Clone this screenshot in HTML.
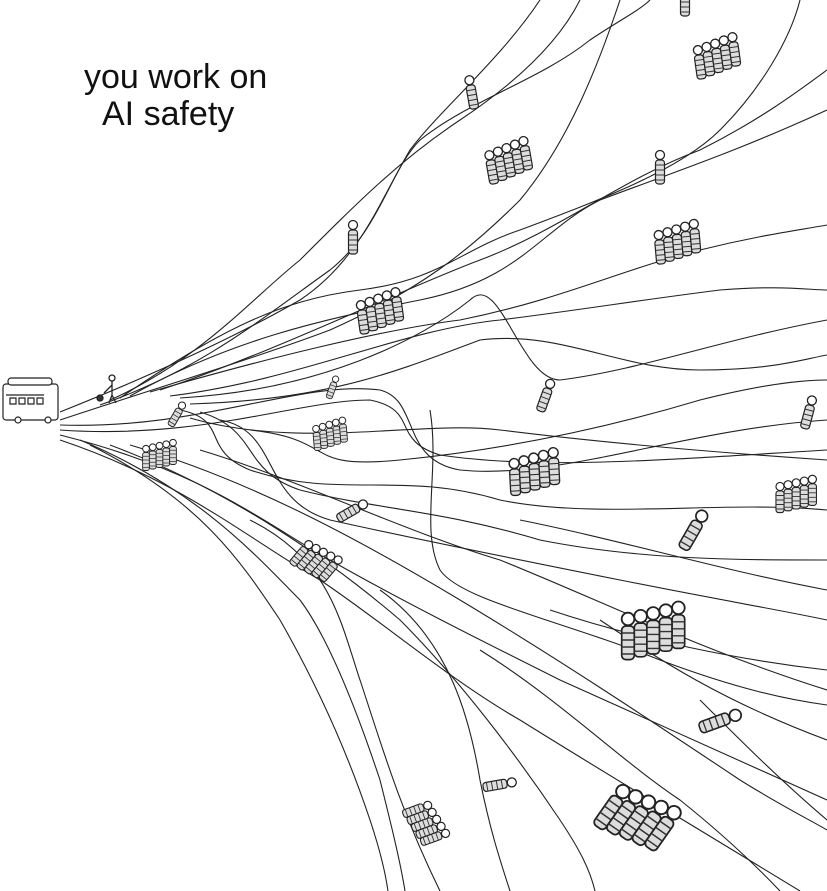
<!DOCTYPE html>
<html><head><meta charset="utf-8"><style>
html,body{margin:0;padding:0;background:#fff;}
svg{display:block}
text{font-family:"Liberation Sans",sans-serif;font-size:34px;fill:#111}
</style></head><body>
<svg width="827" height="891" viewBox="0 0 827 891" xmlns="http://www.w3.org/2000/svg">
<defs>
<g id="p">
<circle cx="0" cy="-15" r="4.5" fill="#fff" stroke="#222" stroke-width="1.3"/>
<rect x="-4.5" y="-10" width="9" height="24" rx="3" fill="#ddd" stroke="#222" stroke-width="1.2"/>
<path d="M-4.5 -5H4.5M-4.5 0H4.5M-4.5 5H4.5M-4.5 10H4.5" stroke="#333" stroke-width="1"/>
</g>
<g id="g5">
<use href="#p" x="0"/><use href="#p" x="9" y="-2"/><use href="#p" x="18" y="-4"/><use href="#p" x="27" y="-6"/><use href="#p" x="36" y="-8"/>
</g>
</defs>
<rect width="827" height="891" fill="#fff"/>
<text x="84" y="88">you work on</text>
<text x="102" y="125">AI safety</text>
<g fill="none" stroke="#222" stroke-width="1.1">
<path d="M60 420 C150 390 250 360 330 330 C420 290 470 250 520 200 C570 140 600 60 620 0"/>
<path d="M60 412 C140 380 230 340 300 300 C360 260 380 200 410 150 C440 110 500 60 540 0"/>
<path d="M100 405 C200 370 260 320 330 270 C380 230 390 170 420 140 C470 100 540 80 590 40 C620 20 640 10 650 0"/>
<path d="M110 400 C200 360 250 300 300 260 C360 200 400 160 460 120 C520 80 560 40 580 0"/>
<path d="M120 398 C220 330 280 300 360 290 C440 280 460 250 520 230 C600 200 680 170 720 130 C760 90 790 40 800 0"/>
<path d="M130 396 C230 340 320 320 420 300 C520 280 540 230 600 200 C680 170 740 150 827 110"/>
<path d="M150 392 C260 360 380 330 460 320 C560 300 620 270 700 250 C760 235 800 230 827 225"/>
<path d="M160 390 C280 350 400 290 480 260 C560 230 620 180 700 150 C760 120 800 90 827 70"/>
<path d="M170 396 C300 380 400 330 500 320 C580 310 640 300 720 290 C780 285 810 290 827 290"/>
<path d="M180 398 C320 390 420 340 470 300 C500 270 520 380 560 380 C640 370 720 340 827 320"/>
<path d="M190 404 C330 400 400 370 480 340 C560 330 620 370 700 370 C770 370 800 360 827 355"/>
<path d="M60 425 C200 430 300 380 380 390 C420 400 400 460 460 470 C560 480 680 430 827 420"/>
<path d="M60 430 C200 440 300 400 370 400 C420 410 390 440 440 455 C540 470 660 460 827 450"/>
<path d="M180 410 C230 420 200 450 250 470 C340 500 400 470 500 500 C600 520 720 500 827 510"/>
<path d="M200 412 C260 430 240 470 300 490 C380 510 440 510 540 540 C640 560 740 560 827 560"/>
<path d="M220 420 C280 430 260 500 330 520 C420 540 520 560 620 580 C720 600 780 610 827 620"/>
<path d="M250 430 C340 440 300 470 400 460 C500 450 600 430 700 400 C760 385 800 380 827 380"/>
<path d="M190 418 C300 450 420 420 500 430 C580 440 680 450 827 460"/>
<path d="M430 410 C440 470 420 530 440 570 C460 600 560 620 660 660 C740 690 790 700 827 705"/>
<path d="M60 435 C200 470 260 520 330 560 C400 600 480 640 560 680 C650 720 740 760 827 800"/>
<path d="M60 440 C180 480 250 540 320 580 C380 620 450 680 520 720 C600 770 700 830 800 891"/>
<path d="M80 440 C200 490 260 560 300 600 C330 640 360 720 380 780 C390 820 400 860 405 891"/>
<path d="M90 445 C200 500 240 560 280 620 C320 690 350 760 370 820 C380 850 385 870 388 891"/>
<path d="M110 445 C230 490 330 560 400 620 C460 680 520 760 560 820 C580 850 590 870 595 891"/>
<path d="M130 445 C250 480 360 540 460 600 C560 660 650 720 740 780 C780 805 810 820 827 830"/>
<path d="M200 450 C300 480 400 530 500 560 C600 600 700 650 827 690"/>
<path d="M250 520 C330 560 340 620 360 680 C380 740 400 810 440 891"/>
<path d="M380 590 C450 640 470 720 480 780 C490 830 500 860 510 891"/>
<path d="M480 650 C560 700 620 760 680 800 C730 840 760 870 780 891"/>
<path d="M600 620 C660 660 720 700 827 740"/>
<path d="M550 610 C640 640 740 660 827 670"/>
<path d="M700 700 C740 740 780 780 827 820"/>
<path d="M520 520 C620 540 720 570 827 590"/>
</g>
<g stroke="#222" stroke-width="1.2" fill="#fff">
<rect x="3" y="384" width="55" height="36" rx="3"/>
<rect x="8" y="378" width="44" height="7" rx="3"/>
<path d="M6 395h38M10 398h6v6h-6zM19 398h6v6h-6zM28 398h6v6h-6zM37 398h6v6h-6z"/>
<circle cx="18" cy="420" r="3"/><circle cx="48" cy="420" r="3"/>
</g>
<g stroke="#222" stroke-width="1.3" fill="none">
<circle cx="112" cy="378" r="3"/><path d="M112 381v14l-3 8M112 395l4 8M112 385l-8 8"/><circle cx="100" cy="398" r="3" fill="#333"/>
</g>
<use href="#p" transform="translate(472,95) rotate(-10)"/>
<use href="#p" transform="translate(353,240)"/>
<use href="#p" transform="translate(660,170)"/>
<use href="#p" transform="translate(685,2)"/>
<use href="#p" transform="translate(545,398) rotate(20)"/>
<use href="#p" transform="translate(808,415) rotate(15)"/>
<use href="#p" transform="translate(692,533) rotate(30) scale(1.3)"/>
<use href="#p" transform="translate(350,512) rotate(60)"/>
<use href="#p" transform="translate(717,722) rotate(70) scale(1.3)"/>
<use href="#p" transform="translate(497,785) rotate(80)"/>
<use href="#p" transform="translate(176,416) rotate(30) scale(0.8)"/>
<use href="#p" transform="translate(332,389) rotate(20) scale(0.7)"/>
<use href="#g5" transform="translate(700,65) rotate(-8)"/>
<use href="#g5" transform="translate(492,170) rotate(-10)"/>
<use href="#g5" transform="translate(660,250) rotate(-5)"/>
<use href="#g5" transform="translate(363,320) rotate(-8)"/>
<use href="#g5" transform="translate(317,440) rotate(-5) scale(0.75)"/>
<use href="#g5" transform="translate(146,460) rotate(0) scale(0.75)"/>
<use href="#g5" transform="translate(515,480) rotate(-3) scale(1.1)"/>
<use href="#g5" transform="translate(780,500) rotate(0) scale(0.9)"/>
<use href="#g5" transform="translate(300,555) rotate(40) scale(0.9)"/>
<use href="#g5" transform="translate(628,640) rotate(0) scale(1.4)"/>
<use href="#g5" transform="translate(415,810) rotate(70) scale(0.9)"/>
<use href="#g5" transform="translate(610,810) rotate(35) scale(1.5)"/>
</svg>
</body></html>
